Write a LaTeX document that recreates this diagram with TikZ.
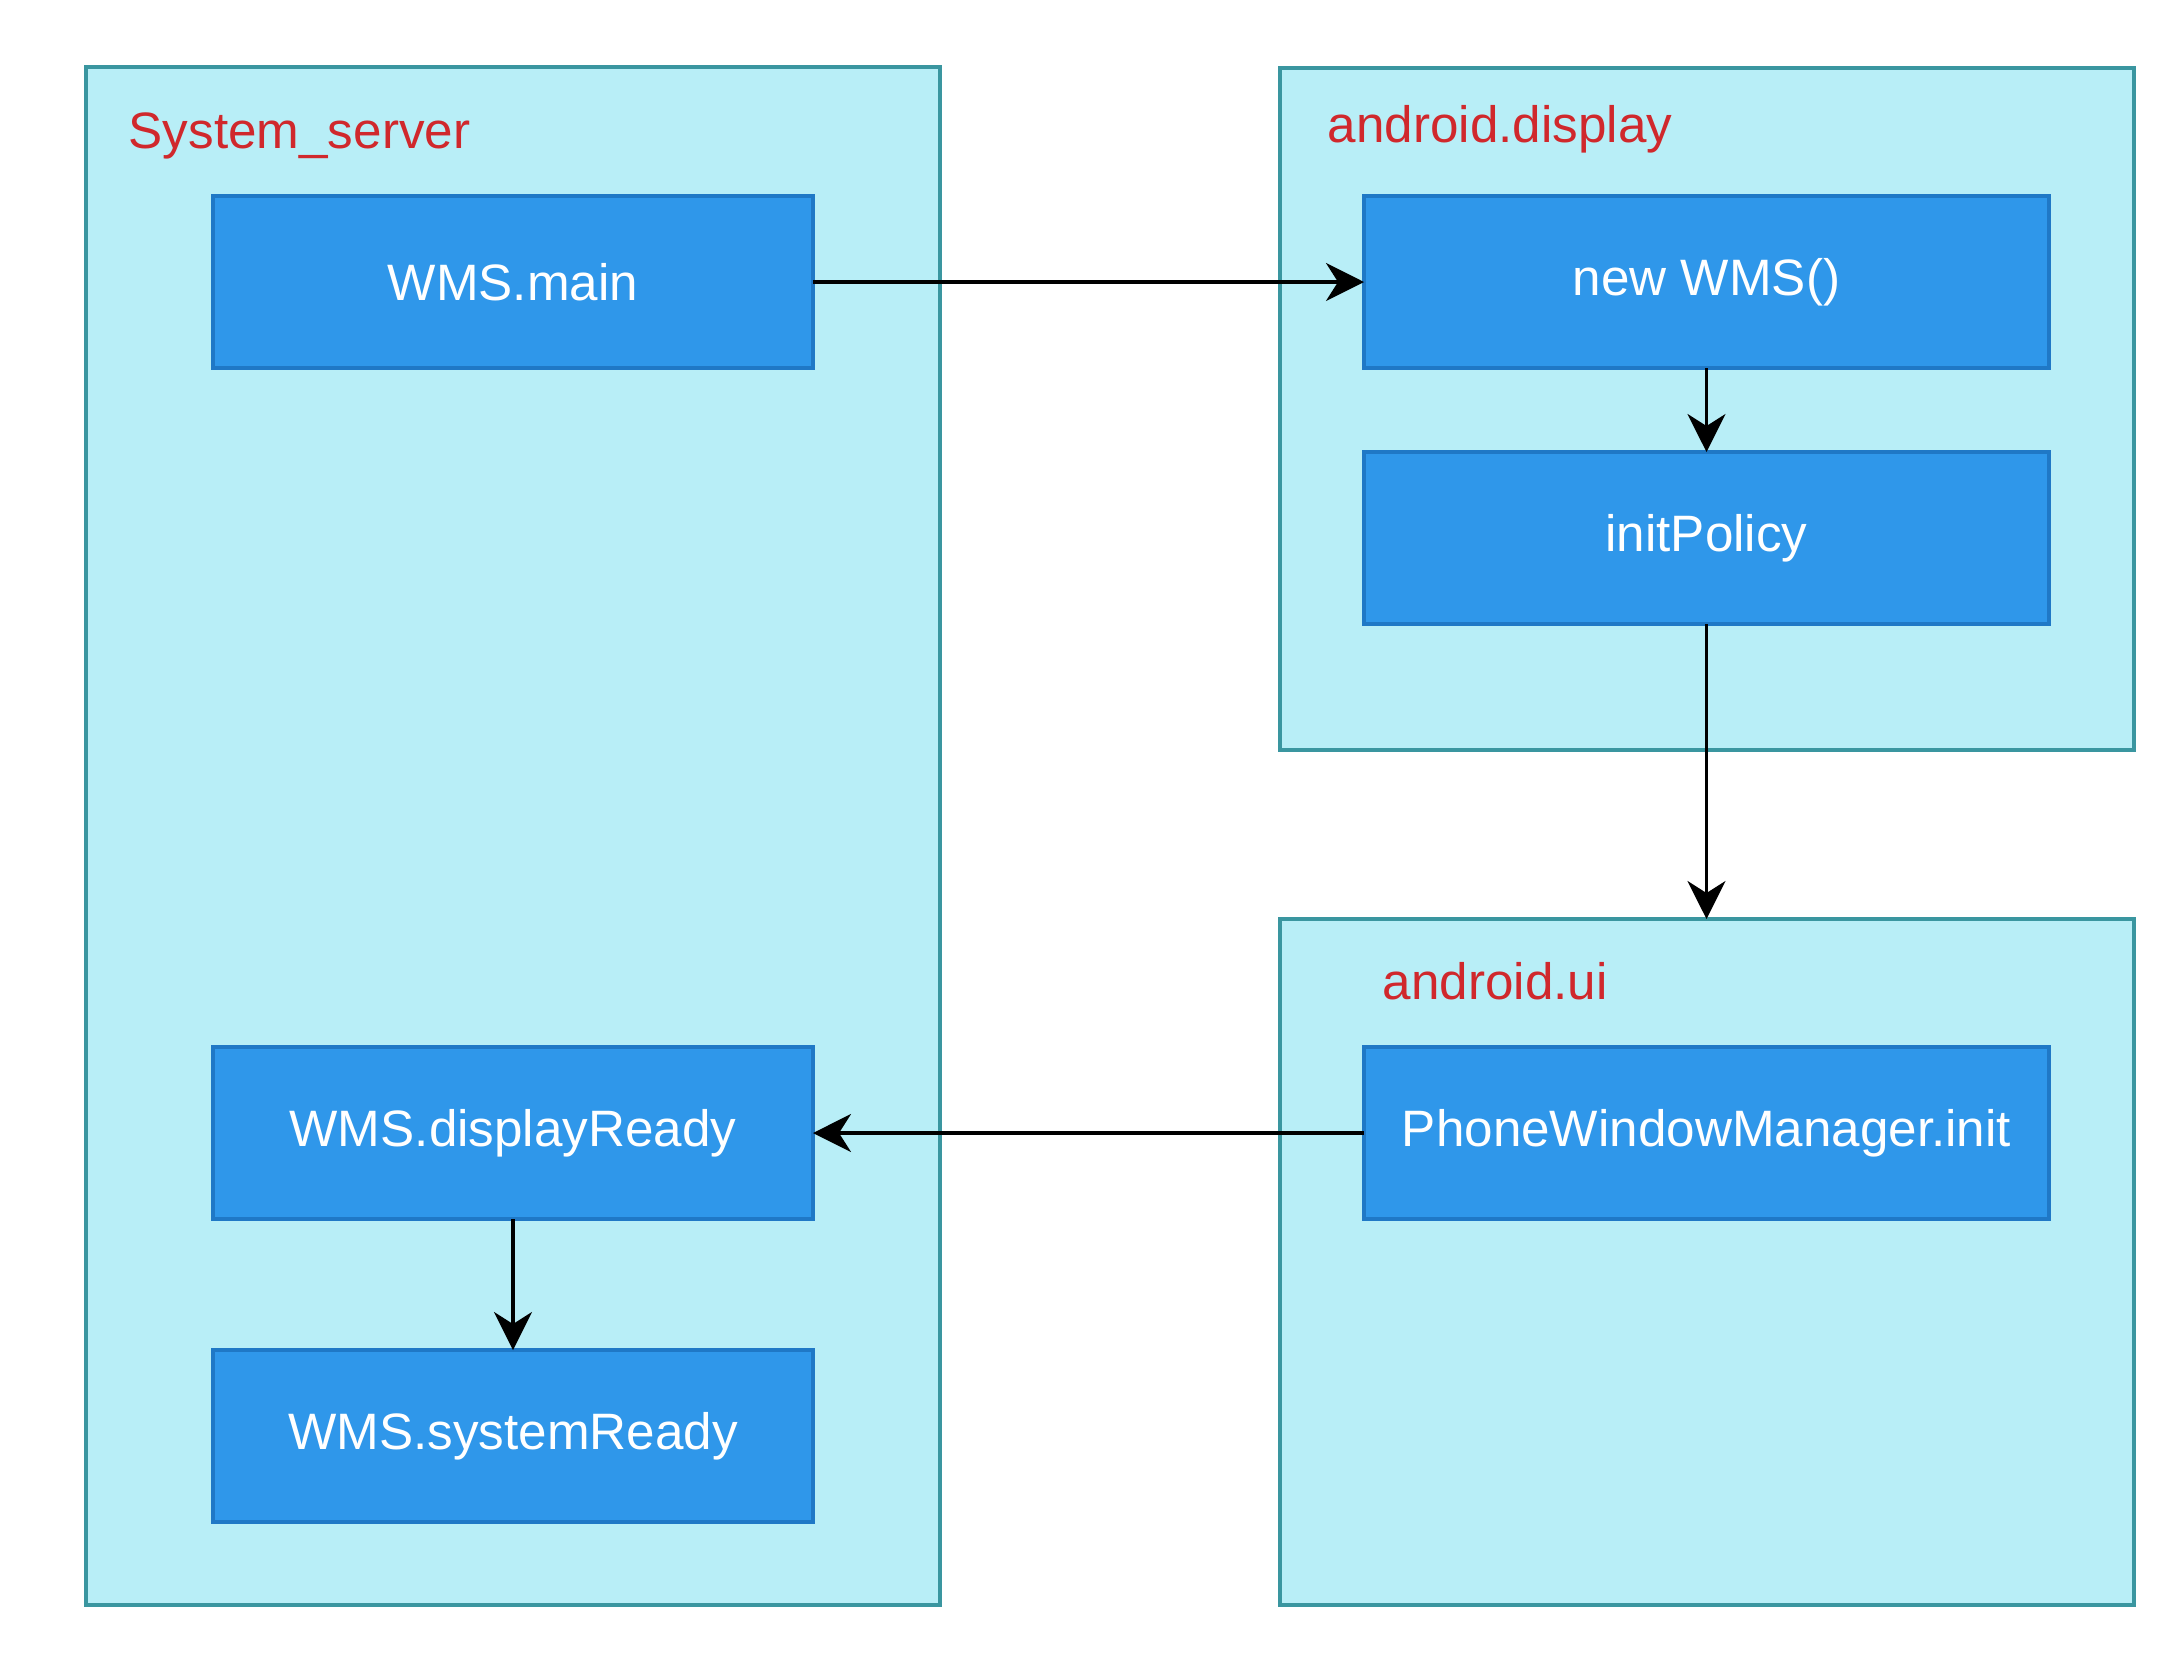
\documentclass[tikz,border=0pt]{standalone}
\usepackage{fontspec}
\setmainfont{Liberation Sans}
\usetikzlibrary{arrows.meta}
\definecolor{grpfill}{HTML}{B8EEF7}
\definecolor{grpdraw}{HTML}{3A96A0}
\definecolor{boxfill}{HTML}{2F97EA}
\definecolor{boxdraw}{HTML}{1F78C6}
\definecolor{lblred}{HTML}{D0282C}
\begin{document}
\begin{tikzpicture}[x=0.25pt,y=-0.25pt,
  group/.style={draw=grpdraw, fill=grpfill, line width=0.8pt, anchor=north west,
    inner sep=0pt, outer sep=0pt},
  stepbox/.style={draw=boxdraw, fill=boxfill, line width=0.8pt, anchor=north west,
    inner sep=0pt, outer sep=0pt, text=white, minimum height=43pt,
    font=\fontsize{12.8pt}{15pt}\selectfont},
  grplabel/.style={anchor=base west, inner sep=0pt, text=lblred,
    font=\fontsize{12.8pt}{15pt}\selectfont},
  conn/.style={draw=black, line width=0.8pt, -{Stealth[length=9.5pt,width=9.5pt,inset=3pt]}}
]
\useasboundingbox (0,0) rectangle (2174,1672);
% groups
\node[group, minimum width=213.5pt, minimum height=384.5pt] (sys) at (86,67) {};
\node[group, minimum width=213.5pt, minimum height=170.5pt] (disp) at (1280,68) {};
\node[group, minimum width=213.5pt, minimum height=171.5pt] (ui) at (1280,919) {};
% group labels
\node[grplabel] (lsys) at (128,148) {System\_server};
\node[grplabel] (ldisp) at (1327,142) {android.display};
\node[grplabel] (lui) at (1382,999) {android.ui};
% steps
\node[stepbox, minimum width=150pt] (main) at (213,196) {WMS.main};
\node[stepbox, minimum width=171.25pt] (newwms) at (1364,196) {new WMS()};
\node[stepbox, minimum width=171.25pt] (initp) at (1364,452) {initPolicy};
\node[stepbox, minimum width=171.25pt] (pwm) at (1364,1047) {PhoneWindowManager.init};
\node[stepbox, minimum width=150pt] (dready) at (213,1047) {WMS.displayReady};
\node[stepbox, minimum width=150pt] (sready) at (213,1350) {WMS.systemReady};
% connectors
\draw[conn] (main.east) -- (newwms.west);
\draw[conn] (newwms.south) -- (initp.north);
\draw[conn] (initp.south) -- (initp.south |- ui.north);
\draw[conn] (pwm.west) -- (dready.east);
\draw[conn] (dready.south) -- (sready.north);
\end{tikzpicture}
\end{document}
